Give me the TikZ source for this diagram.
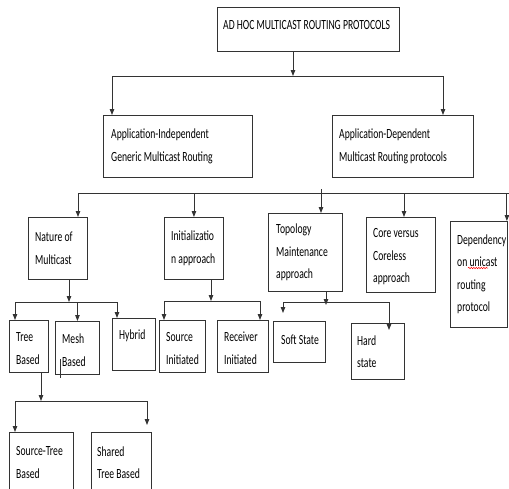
\documentclass[tikz,border=0pt]{standalone}
\usepackage{fontspec}
\setmainfont{Carlito}[FakeStretch=0.69]
\usetikzlibrary{arrows.meta,decorations.pathmorphing}

\tikzset{
  box/.style 2 args={draw=black!80, line width=0.9pt, minimum width=#1pt,
    minimum height=#2pt, inner sep=0pt, anchor=north west},
  txt/.style={align=left, inner sep=0pt, anchor=west,
    font=\fontsize{14}{22.5}\selectfont},
  link/.style={draw=black!80, line width=0.9pt},
  arr/.style={link, -{Triangle[length=6pt,width=4.5pt]}},
}

\begin{document}
\begin{tikzpicture}[x=1pt,y=-1pt]
\useasboundingbox (0,0) rectangle (509,488);

% Root box
\node[box={182}{44}] (root) at (217,7) {};
\node[txt] (root-t) at ([xshift=6pt,yshift=4pt]root.west) {AD HOC MULTICAST ROUTING PROTOCOLS};

% Application classes
\node[box={149}{62}] (appind) at (103,115) {};
\node[txt] (appind-t) at ([xshift=8pt]appind.west) {Application-Independent\\Generic Multicast Routing};
\node[box={141}{62}] (appdep) at (332,115) {};
\node[txt] (appdep-t) at ([xshift=7pt]appdep.west) {Application-Dependent\\Multicast Routing protocols};

% Second level boxes
\node[box={59}{62}] (nature) at (28,217) {};
\node[txt] (nature-t) at ([xshift=7pt]nature.west) {Nature of\\Multicast};
\node[box={59}{62}] (init) at (164,217) {};
\node[txt] (init-t) at ([xshift=7pt]init.west) {Initializatio\\n approach};
\node[box={74}{78}] (topo) at (268,213) {};
\node[txt] (topo-t) at ([xshift=8pt]topo.west) {Topology\\Maintenance\\approach};
\node[box={69}{75}] (core) at (366,217) {};
\node[txt] (core-t) at ([xshift=7pt,yshift=-2pt]core.west) {Core versus\\Coreless\\approach};
\node[box={57}{106}] (unidep) at (450,221) {};
\node[txt] (unidep-t) at ([xshift=7pt]unidep.west) {Dependency\\on unicast\\routing\\protocol};
\draw[red, line width=0.5pt, decorate, decoration={snake, amplitude=0.7pt, segment length=2.5pt}] (468,268) -- (488,268);

% Third level boxes
\node[box={39}{52}] (tree) at (9,320) {};
\node[txt] (tree-t) at ([xshift=7pt,yshift=-2pt]tree.west) {Tree\\Based};
\node[box={44}{53}] (mesh) at (55,321) {};
\node[txt] (mesh-t) at ([xshift=7pt,yshift=-2pt]mesh.west) {Mesh\\Based};
\node[box={43}{52}] (hybrid) at (112,318) {};
\node[txt] (hybrid-t) at ([xshift=7pt,yshift=9pt]hybrid.west) {Hybrid};
\node[box={46}{52}] (srcinit) at (159,320) {};
\node[txt] (srcinit-t) at ([xshift=7pt,yshift=-2pt]srcinit.west) {Source\\Initiated};
\node[box={51}{52}] (rcvinit) at (217,320) {};
\node[txt] (rcvinit-t) at ([xshift=7pt,yshift=-2pt]rcvinit.west) {Receiver\\Initiated};
\node[box={52}{41}] (soft) at (273,321) {};
\node[txt] (soft-t) at ([xshift=8pt,yshift=2pt]soft.west) {Soft State};
\node[box={53}{56}] (hard) at (351,323) {};
\node[txt] (hard-t) at ([xshift=6pt]hard.west) {Hard\\state};

% Fourth level boxes
\node[box={64}{60}] (srctree) at (9,432) {};
\node[txt] (srctree-t) at ([xshift=7pt]srctree.west) {Source-Tree\\Based};
\node[box={60}{60}] (shared) at (91,432) {};
\node[txt] (shared-t) at ([xshift=6pt]shared.west) {Shared\\Tree Based};

% Drawing links root -- application classes
\coordinate (j1) at (293,76);
\coordinate (j1w) at (112,76);
\coordinate (j1e) at (443,76);
\draw[arr] (root.south -| j1) -- (j1);
\draw[link] (j1w) -- (j1e);
\draw[arr] (j1w) -- (j1w |- appind.north);
\draw[arr] (j1e) -- (j1e |- appdep.north);

% Drawing second level bus
\coordinate (j2w) at (78,193);
\coordinate (j2e) at (509,193);
\coordinate (j2t) at (321,189);
\coordinate (j2c) at (404,193);
\draw[link] (j2w) -- (j2e);
\draw[arr] (j2w) -- (j2w |- nature.north);
\draw[arr] (init.north |- j2w) -- (init.north);
\draw[arr] (j2t) -- (j2t |- topo.north);
\draw[arr] (j2c) -- (j2c |- core.north);
\draw[arr] ([xshift=-1pt]unidep.north east |- j2w) -- ([xshift=-1pt]unidep.north east);

% Nature of multicast
\coordinate (j3) at (69,302);
\coordinate (j3w) at (15,302);
\coordinate (j3e) at (117,302);
\draw[arr] (j3 |- nature.south) -- (j3);
\draw[link] (j3w) -- (j3e);
\draw[arr] (j3w) -- (j3w |- tree.north);
\draw[arr] (mesh.north |- j3w) -- (mesh.north);
\draw[arr] (j3e) -- (j3e |- hybrid.north);
\draw[link, line width=0.8pt] (60,359) -- (60,378);

% Initialization approach
\coordinate (j4) at (211,301);
\coordinate (j4w) at (164,301);
\coordinate (j4e) at (260,301);
\draw[arr] (j4 |- init.south) -- (j4);
\draw[link] (j4w) -- (j4e);
\draw[arr] (j4w) -- (j4w |- srcinit.north);
\draw[arr] (j4e) -- (j4e |- rcvinit.north);

% Topology maintenance approach
\coordinate (j5) at (326,305);
\coordinate (j5w) at (283,302);
\coordinate (j5e) at (389,302);
\draw[arr] (j5 |- topo.south) -- (j5);
\draw[link] (j5w) -- (j5e);
\draw[arr] (j5w) -- ([yshift=8pt]j5w |- soft.north);
\draw[arr] (j5e) -- ([yshift=-7pt]j5e |- hard.north);

% Tree based
\coordinate (j6) at (41,401);
\coordinate (j6w) at (15,401);
\coordinate (j6e) at (147,401);
\draw[arr] (j6 |- tree.south) -- (j6);
\draw[link] (j6w) -- (j6e);
\draw[arr] (j6w) -- (j6w |- srctree.north);
\draw[arr] (j6e) -- ([yshift=7pt]j6e |- shared.north);
\end{tikzpicture}
\end{document}
